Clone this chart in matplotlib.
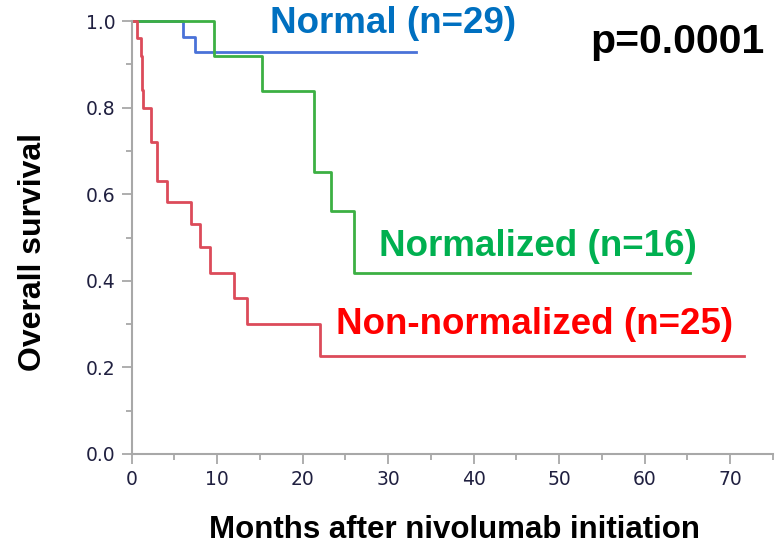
import matplotlib.pyplot as plt
from matplotlib.ticker import MultipleLocator

# Kaplan-Meier curves
normal_t = [0, 6.0, 7.4, 33.3]
normal_s = [1.0, 0.963, 0.928, 0.928]

normalized_t = [0, 9.7, 15.3, 21.3, 23.3, 26.0, 65.3]
normalized_s = [1.0, 0.92, 0.838, 0.651, 0.561, 0.418, 0.418]

nonnorm_t = [0, 0.6, 1.1, 1.17, 1.23, 1.3, 2.25, 3.0, 4.2, 6.9, 8.0, 9.2, 12.0, 13.5, 22.0, 71.6]
nonnorm_s = [1.0, 0.96, 0.92, 0.88, 0.84, 0.80, 0.72, 0.63, 0.583, 0.531, 0.478, 0.418, 0.36, 0.30, 0.227, 0.227]

xticks = [0, 10, 20, 30, 40, 50, 60, 70]
yticks = [0.0, 0.2, 0.4, 0.6, 0.8, 1.0]

fig = plt.figure(figsize=(7.81, 5.55), dpi=100)
ax = fig.add_axes([0.1684, 0.182, 0.8214, 0.780])

ax.step(normal_t, normal_s, where='post', color='#4a72d8', lw=2.0, clip_on=False)
ax.step(normalized_t, normalized_s, where='post', color='#3cb043', lw=2.0, clip_on=False)
ax.step(nonnorm_t, nonnorm_s, where='post', color='#dc4b5a', lw=2.0, clip_on=False)

ax.set_xlim(0, 75)
ax.set_ylim(0, 1.0)
ax.set_xticks(xticks)
ax.set_yticks(yticks)
ax.set_yticklabels(['%.1f' % v for v in yticks])
ax.xaxis.set_minor_locator(MultipleLocator(5))
ax.yaxis.set_minor_locator(MultipleLocator(0.1))

for s in ['top', 'right']:
    ax.spines[s].set_visible(False)
for s in ['left', 'bottom']:
    ax.spines[s].set_color('#a8a8a8')
    ax.spines[s].set_linewidth(1.5)

ax.tick_params(which='major', length=7.5, width=1.3, color='#a8a8a8',
               labelsize=13.5, labelcolor='#202040', pad=4)
ax.tick_params(which='minor', length=4, width=1.3, color='#a8a8a8')

bold = dict(family='Liberation Sans', fontweight='bold')
ax.set_xlabel('Months after nivolumab initiation', fontsize=22.5, va='center', **bold)
ax.set_ylabel('Overall survival', fontsize=23, va='center', **bold)
ax.xaxis.set_label_coords(0.504, -0.176)
ax.yaxis.set_label_coords(-0.153, 0.467)

ax.text(16.2, 0.995, 'Normal (n=29)', color='#0070c0', fontsize=26.5, va='center', **bold)
ax.text(28.9, 0.48, 'Normalized (n=16)', color='#00b050', fontsize=26.5, va='center', **bold)
ax.text(23.9, 0.30, 'Non-normalized (n=25)', color='#ff0000', fontsize=26.5, va='center', **bold)
ax.text(53.6, 0.952, 'p=0.0001', color='black', fontsize=29.5, va='center', **bold)

fig.savefig('out.png', dpi=100)
